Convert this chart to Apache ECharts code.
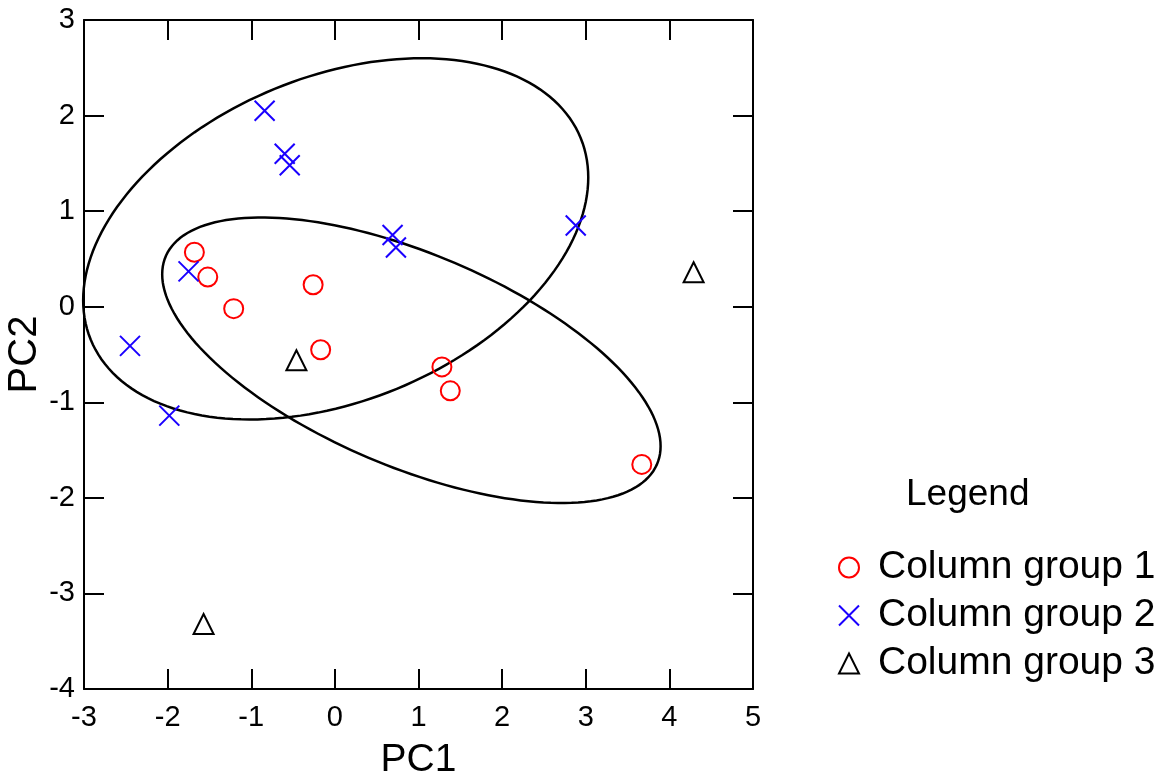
<!DOCTYPE html>
<html>
<head>
<meta charset="utf-8">
<title>PCA</title>
<script src="https://cdn.jsdelivr.net/npm/echarts@6/dist/echarts.min.js"></script>
<style>
	html, body { margin: 0; padding: 0; background: #fff; }
	#chart { width: 1166px; height: 774px; }
</style>
</head>
<body>
<div id="chart"></div>
<script>
// 各组的点 [PC1, PC2]
const group1 = [[-1.68, 0.57], [-1.52, 0.31], [-1.21, -0.02], [-0.26, 0.23], [-0.17, -0.45],
	[1.28, -0.63], [1.38, -0.88], [3.67, -1.65]];
const group2 = [[-0.84, 2.05], [-0.60, 1.60], [-0.54, 1.48], [-1.75, 0.37], [-2.45, -0.41],
	[-1.98, -1.14], [0.69, 0.75], [0.73, 0.62], [2.88, 0.85]];
const group3 = [[-0.46, -0.56], [4.29, 0.36], [-1.57, -3.32]];
// 椭圆: [中心x, 中心y, x半宽, y半高, xy协方差项]
const ellipses = [[0.01, 0.71, 3.02, 1.89, 1.94], [0.915, -0.56, 2.98, 1.494, -2.68]];
const groupNames = ['Column group 1', 'Column group 2', 'Column group 3'];

const font = 'Liberation Sans, Arial, sans-serif';
const myChart = echarts.init(document.getElementById('chart'));

// 坐标轴公共样式
const axisLine = { onZero: false, lineStyle: { color: '#000', width: 2 } };
const axisTick = { inside: true, length: 20, lineStyle: { color: '#000', width: 2 } };

const option = {
	backgroundColor: '#fff',
	animation: false,
	title: {
		text: 'Legend',
		left: 906,
		top: 476,
		padding: 0,
		textStyle: { fontFamily: font, fontSize: 37, fontWeight: 'normal', color: '#000' }
	},
	legend: {
		data: groupNames,
		orient: 'vertical',
		left: 833,
		top: 543,
		itemWidth: 20,
		itemHeight: 20,
		itemGap: 9,
		textStyle: { fontFamily: font, fontSize: 39, color: '#000', padding: [0, 0, 0, 14] }
	},
	grid: { left: 84, top: 20, width: 669, height: 669, outerBoundsMode: 'none', containLabel: false },
	xAxis: [
		{
			type: 'value', min: -3, max: 5, interval: 1, position: 'bottom',
			name: 'PC1', nameLocation: 'middle', nameGap: 52, nameMoveOverlap: false,
			nameTextStyle: { fontFamily: font, fontSize: 39, color: '#000' },
			axisLine: axisLine, axisTick: axisTick,
			axisLabel: { fontFamily: font, fontSize: 29, color: '#000', margin: 14 },
			splitLine: { show: false }
		},
		{
			type: 'value', min: -3, max: 5, interval: 1, position: 'top',
			axisLine: axisLine, axisTick: axisTick,
			axisLabel: { show: false }, splitLine: { show: false }
		}
	],
	yAxis: [
		{
			type: 'value', min: -4, max: 3, interval: 1, position: 'left',
			name: 'PC2', nameLocation: 'middle', nameGap: 39, nameRotate: 90, nameMoveOverlap: false,
			nameTextStyle: { fontFamily: font, fontSize: 40, color: '#000' },
			axisLine: axisLine, axisTick: axisTick,
			axisLabel: { fontFamily: font, fontSize: 29, color: '#000', margin: 9 },
			splitLine: { show: false }
		},
		{
			type: 'value', min: -4, max: 3, interval: 1, position: 'right',
			axisLine: axisLine, axisTick: axisTick,
			axisLabel: { show: false }, splitLine: { show: false }
		}
	],
	series: [
		{
			// 置信椭圆
			type: 'custom',
			data: ellipses,
			encode: { x: 0, y: 1 },
			silent: true,
			z: 1,
			renderItem: function (params, api) {
				const cx = api.value(0), cy = api.value(1);
				const w = api.value(2), h = api.value(3), c = api.value(4);
				const b = c / w;
				const d = Math.sqrt(h * h - b * b);
				const points = [];
				for (let i = 0; i < 180; i++) {
					const t = i / 180 * Math.PI * 2;
					points.push(api.coord([cx + w * Math.cos(t), cy + b * Math.cos(t) + d * Math.sin(t)]));
				}
				return {
					type: 'polygon',
					shape: { points: points },
					style: { fill: 'none', stroke: '#000', lineWidth: 2.5 }
				};
			}
		},
		{
			name: groupNames[0],
			type: 'scatter',
			data: group1,
			symbol: 'circle',
			symbolSize: 19,
			z: 3,
			itemStyle: { color: 'rgba(255,255,255,0)', borderColor: '#ff0000', borderWidth: 2, opacity: 1 }
		},
		{
			name: groupNames[1],
			type: 'scatter',
			data: group2,
			symbol: 'path://M0,0L20,20M20,0L0,20',
			symbolSize: 20,
			z: 3,
			itemStyle: { color: '#1a00ff', borderColor: '#1a00ff', borderWidth: 2, opacity: 1 }
		},
		{
			name: groupNames[2],
			type: 'scatter',
			data: group3,
			symbol: 'triangle',
			symbolSize: 20,
			z: 3,
			itemStyle: { color: 'rgba(255,255,255,0)', borderColor: '#000', borderWidth: 2, opacity: 1 }
		}
	]
};

myChart.setOption(option);
</script>
</body>
</html>
